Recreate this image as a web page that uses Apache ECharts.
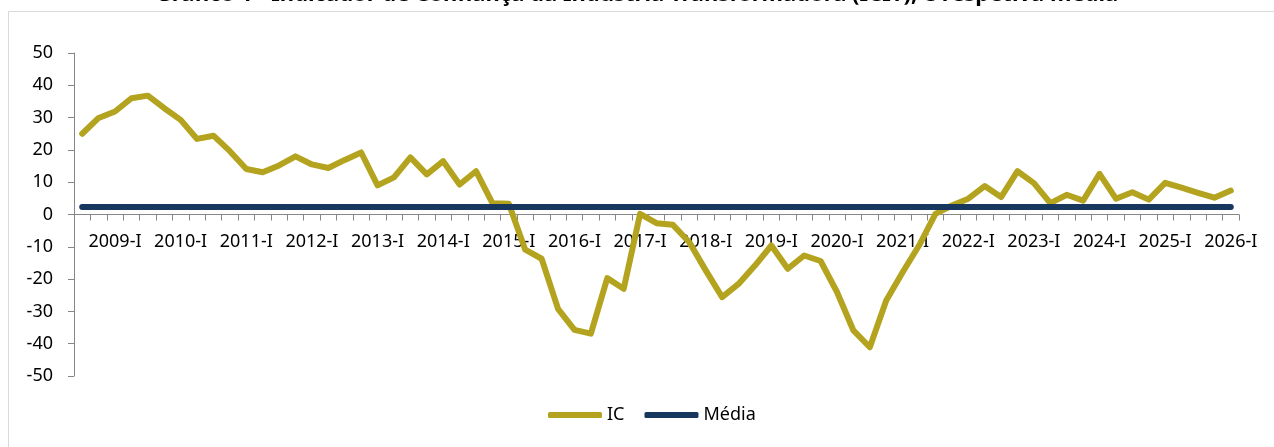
<!DOCTYPE html>
<html>
<head>
<meta charset="utf-8">
<script src="https://cdn.jsdelivr.net/npm/echarts@6/dist/echarts.min.js"></script>
<style>
html,body{margin:0;padding:0;background:#fff;}
#chart{width:1274px;height:447px;}
</style>
</head>
<body>
<div id="chart"></div>
<script>
const titleText = 'Gráfico 1 - Indicador de Confiança da Indústria Transformadora (ICIT), e respetiva média';

const categories = [
  '2008-III','2008-IV',
  '2009-I','2009-II','2009-III','2009-IV',
  '2010-I','2010-II','2010-III','2010-IV',
  '2011-I','2011-II','2011-III','2011-IV',
  '2012-I','2012-II','2012-III','2012-IV',
  '2013-I','2013-II','2013-III','2013-IV',
  '2014-I','2014-II','2014-III','2014-IV',
  '2015-I','2015-II','2015-III','2015-IV',
  '2016-I','2016-II','2016-III','2016-IV',
  '2017-I','2017-II','2017-III','2017-IV',
  '2018-I','2018-II','2018-III','2018-IV',
  '2019-I','2019-II','2019-III','2019-IV',
  '2020-I','2020-II','2020-III','2020-IV',
  '2021-I','2021-II','2021-III','2021-IV',
  '2022-I','2022-II','2022-III','2022-IV',
  '2023-I','2023-II','2023-III','2023-IV',
  '2024-I','2024-II','2024-III','2024-IV',
  '2025-I','2025-II','2025-III','2025-IV',
  '2026-I'
];

const icValues = [
  25.0, 29.9,
  31.9, 36.0, 36.8, 32.9,
  29.3, 23.4, 24.4, 19.6,
  14.1, 13.1, 15.2, 18.0,
  15.5, 14.4, 16.9, 19.2,
  9.0, 11.5, 17.7, 12.4,
  16.5, 9.3, 13.4, 3.5,
  3.3, -10.9, -13.7, -29.2,
  -35.7, -36.9, -19.7, -23.0,
  0.2, -2.7, -3.2, -8.6,
  -17.3, -25.6, -21.5, -15.8,
  -9.6, -16.8, -12.7, -14.4,
  -24.0, -35.9, -41.1, -26.6,
  -17.9, -9.6, 0.2, 2.8,
  4.9, 8.8, 5.4, 13.4,
  9.7, 3.5, 6.1, 4.3,
  12.6, 4.9, 6.9, 4.6,
  9.8, 8.3, 6.7, 5.2,
  7.4
];

const mediaValue = 2.3;
const mediaValues = categories.map(() => mediaValue);

const yTicks = { min: -50, max: 50, interval: 10 };

const FONT = '"Noto Sans", "Open Sans", sans-serif';
const IC_COLOR = '#b4a31e';
const MEDIA_COLOR = '#17375e';
const AXIS_COLOR = '#868686';

const GRID_TOP = 53, GRID_BOTTOM = 71, H = 447;
const plotH = H - GRID_TOP - GRID_BOTTOM;
const zeroOffset = -plotH * (0 - yTicks.min) / (yTicks.max - yTicks.min);

const chart = echarts.init(document.getElementById('chart'), null, { renderer: 'canvas' });

chart.setOption({
  animation: false,
  backgroundColor: '#ffffff',
  textStyle: { fontFamily: FONT },
  title: {
    text: titleText,
    left: 'center',
    top: -16,
    padding: [0, 0, 0, 28],
    textStyle: { fontFamily: FONT, fontSize: 22, fontWeight: 'bold', color: '#000', lineHeight: 22 }
  },
  graphic: [{
    type: 'rect',
    z: -1,
    silent: true,
    shape: { x: 8.5, y: 11.5, width: 1300, height: 500 },
    style: { fill: 'none', stroke: '#d9d9d9', lineWidth: 1 }
  }],
  legend: {
    top: 406,
    left: 548,
    itemGap: 20,
    itemWidth: 54,
    itemHeight: 6,
    padding: 0,
    icon: 'roundRect',
    textStyle: { fontFamily: FONT, fontSize: 18, color: '#000' },
    data: [
      { name: 'IC', itemStyle: { color: IC_COLOR } },
      { name: 'Média', itemStyle: { color: MEDIA_COLOR } }
    ]
  },
  grid: { left: 74, right: 35, top: GRID_TOP, bottom: GRID_BOTTOM, containLabel: false },
  xAxis: {
    type: 'category',
    data: categories,
    boundaryGap: true,
    offset: zeroOffset,
    axisLine: { show: true, onZero: false, lineStyle: { color: AXIS_COLOR, width: 1 } },
    axisTick: { show: true, interval: 0, length: 6, inside: false, alignWithLabel: false, lineStyle: { color: AXIS_COLOR } },
    axisLabel: {
      interval: (index, value) => /-I$/.test(value),
      margin: 18,
      fontFamily: FONT,
      fontSize: 18,
      color: '#000'
    },
    splitLine: { show: false }
  },
  yAxis: {
    type: 'value',
    min: yTicks.min,
    max: yTicks.max,
    interval: yTicks.interval,
    axisLine: { show: true, lineStyle: { color: AXIS_COLOR, width: 1 } },
    axisTick: { show: true, length: 6, lineStyle: { color: AXIS_COLOR } },
    axisLabel: { margin: 21, fontFamily: FONT, fontSize: 18, color: '#000' },
    splitLine: { show: false }
  },
  series: [
    {
      name: 'IC',
      type: 'line',
      data: icValues,
      symbol: 'none',
      z: 2,
      lineStyle: { color: IC_COLOR, width: 6, cap: 'round', join: 'round' },
      itemStyle: { color: IC_COLOR }
    },
    {
      name: 'Média',
      type: 'line',
      data: mediaValues,
      symbol: 'none',
      z: 3,
      lineStyle: { color: MEDIA_COLOR, width: 6, cap: 'round' },
      itemStyle: { color: MEDIA_COLOR }
    }
  ]
});
</script>
</body>
</html>
